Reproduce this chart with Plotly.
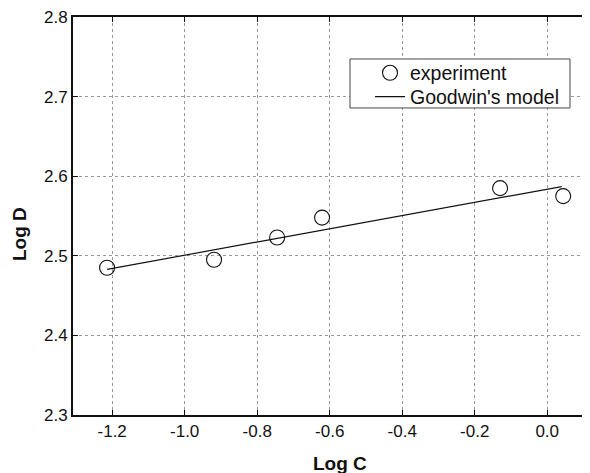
import plotly.graph_objects as go

log_c = [-1.214, -0.919, -0.745, -0.621, -0.130, 0.044]
log_d = [2.485, 2.495, 2.523, 2.548, 2.585, 2.575]

model_c = [-1.214, 0.040]
model_d = [2.483, 2.587]

x_ticks = [-1.2, -1.0, -0.8, -0.6, -0.4, -0.2, 0.0]
x_tick_labels = ["-1.2", "-1.0", "-0.8", "-0.6", "-0.4", "-0.2", "0.0"]
y_ticks = [2.3, 2.4, 2.5, 2.6, 2.7, 2.8]
y_tick_labels = ["2.3", "2.4", "2.5", "2.6", "2.7", "2.8"]

fig = go.Figure()
fig.add_trace(go.Scatter(
    x=log_c, y=log_d, mode="markers", name="experiment", legend="legend",
    marker=dict(symbol="circle-open", size=15, color="#111111", line=dict(width=1.1)),
))
fig.add_trace(go.Scatter(
    x=model_c, y=model_d, mode="lines", name="Goodwin's model", legend="legend2",
    line=dict(color="#111111", width=1.2),
))

font = "Liberation Sans, Arial, sans-serif"
leg_common = dict(xanchor="left", yanchor="middle", bgcolor="rgba(0,0,0,0)",
                  borderwidth=0, font=dict(size=19.5, family=font))
fig.update_layout(
    width=590, height=473,
    margin=dict(l=65, r=8, t=9, b=66, autoexpand=False),
    paper_bgcolor="white", plot_bgcolor="white",
    font=dict(family=font, size=17, color="#111111"),
    showlegend=True,
    legend=dict(x=0.5745, y=0.859, **leg_common),
    legend2=dict(x=0.5745, y=0.799, **leg_common),
    shapes=[
        dict(type="rect", xref="paper", yref="paper",
             x0=0.5358, x1=0.9613, y0=0.7714, y1=0.8945,
             line=dict(color="#444444", width=1), fillcolor="white", layer="above"),
    ],
    xaxis=dict(
        range=[-1.308, 0.118], tickvals=x_ticks, ticktext=x_tick_labels,
        showline=True, linecolor="#111111", linewidth=1.8, mirror="ticks",
        ticks="inside", ticklen=5, tickcolor="#111111", ticklabeloverflow="allow",
        showgrid=True, gridcolor="#999999", griddash="dot", gridwidth=1,
        zeroline=False, automargin=False,
    ),
    yaxis=dict(
        range=[2.3, 2.8], tickvals=y_ticks, ticktext=y_tick_labels,
        showline=True, linecolor="#111111", linewidth=1.8, mirror=False,
        ticks="inside", ticklen=5, tickcolor="#111111", ticklabeloverflow="allow",
        showgrid=True, gridcolor="#999999", griddash="dot", gridwidth=1,
        zeroline=False, automargin=False,
    ),
    annotations=[
        dict(text="<b>Log C</b>", xref="paper", yref="paper", x=0.5164, y=-0.123,
             xanchor="center", yanchor="middle", showarrow=False,
             font=dict(size=19, family=font)),
        dict(text="<b>Log D</b>", xref="paper", yref="paper", x=-0.1025, y=0.4548,
             xanchor="center", yanchor="middle", showarrow=False, textangle=-90,
             font=dict(size=19, family=font)),
    ],
)

fig.write_html("out.html")
